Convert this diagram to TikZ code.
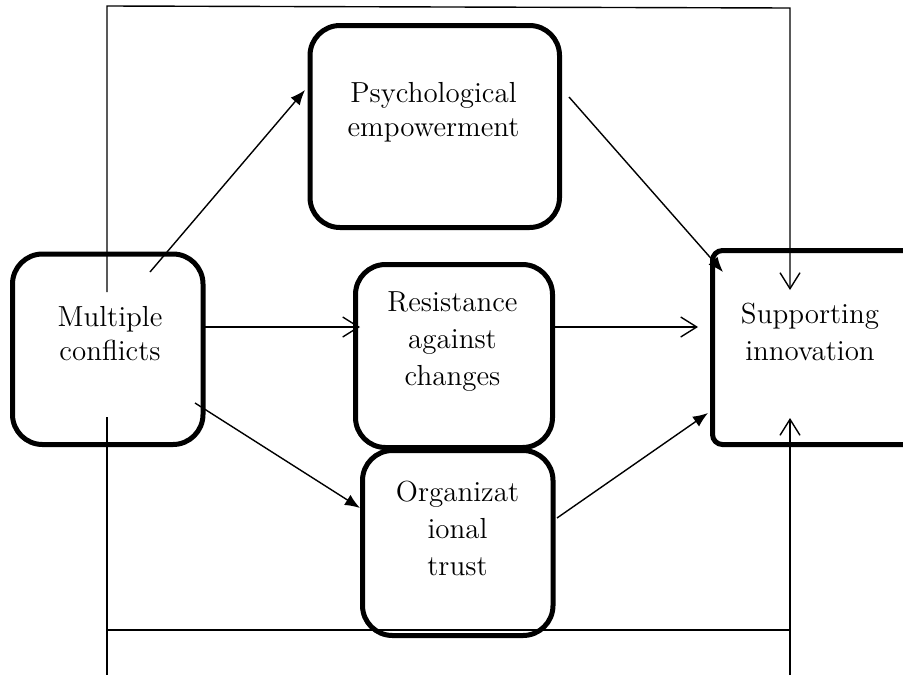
\documentclass[tikz,border=0pt]{standalone}
\usetikzlibrary{arrows.meta}
\begin{document}
\begin{tikzpicture}[x=0.5pt,y=-0.5pt,
  box/.style={draw, line width=2.5pt, rounded corners=15pt, inner sep=0pt},
  txt/.style={align=center, font=\fontsize{14.5}{17}\selectfont, inner sep=0pt},
  conn/.style={line width=0.7pt},
  filltip/.style={-{Latex[length=7.5pt,width=6pt]}},
  opentip/.style={-{Straight Barb[length=8pt,width=10pt,line width=0.7pt]}}]
\useasboundingbox (0,0) rectangle (903,675);
\begin{scope}
\clip (0,0) rectangle (903,675);
% boxes
\node[box, minimum width=95.25pt, minimum height=95.25pt] (mc) at (107.75,349.25) {};
\node[box, minimum width=124.75pt, minimum height=101pt] (pe) at (434.75,126.5) {};
\node[box, minimum width=98.5pt, minimum height=91.5pt] (rc) at (454,356) {};
\node[box, minimum width=95.25pt, minimum height=92.5pt] (ot) at (457.75,543) {};
\node[box, rounded corners=5pt, minimum width=110pt, minimum height=97pt, anchor=west] (si) at (710,347.5) {};
% texts
\node[txt] (mct) at (110,334) {Multiple\\conflicts};
\node[txt] (pet) at (433.5,112) {Psychological\\empowerment};
\node[txt, font=\fontsize{14.5}{18.5}\selectfont] (rct) at (452.5,342) {Resistance\\against\\changes};
\node[txt, font=\fontsize{14.5}{18.5}\selectfont] (ott) at (457.5,528) {Organizat\\ional\\trust};
\node[txt, font=\fontsize{14.5}{18.5}\selectfont] (sit) at (810,332) {Supporting\\innovation};
% frame coordinates
\coordinate (fl1) at (107,292);
\coordinate (ftl) at (107,6);
\coordinate (ftr) at (790,8);
\coordinate (fr1) at (790,290);
\coordinate (fl2) at (107,417);
\coordinate (fl2b) at (107,675);
\coordinate (fbl) at (107,630);
\coordinate (fbr) at (790,630);
\coordinate (fr2b) at (790,675);
\coordinate (fr2) at (790,418);
\draw[conn, opentip] (fl1) -- (ftl) -- (ftr) -- (fr1);
\draw[conn] (fl2) -- (fl2b);
\draw[conn] (fbl) -- (fbr);
\draw[conn, opentip] (fr2b) -- (fr2);
% connector end points
\coordinate (a1s) at (150,272);
\coordinate (a1e) at (305,90);
\coordinate (a2s) at (205,327);
\coordinate (a2e) at (360,327);
\coordinate (a3s) at (195,403);
\coordinate (a3e) at (360,508);
\coordinate (a4s) at (569,97);
\coordinate (a4e) at (723,272);
\coordinate (a5s) at (555,327);
\coordinate (a5e) at (698,327);
\coordinate (a6s) at (557,518);
\coordinate (a6e) at (708,413);
\draw[conn, filltip] (a1s) -- (a1e);
\draw[conn, opentip] (a2s) -- (a2e);
\draw[conn, filltip] (a3s) -- (a3e);
\draw[conn, filltip] (a4s) -- (a4e);
\draw[conn, opentip] (a5s) -- (a5e);
\draw[conn, filltip] (a6s) -- (a6e);
\end{scope}
\end{tikzpicture}
\end{document}
